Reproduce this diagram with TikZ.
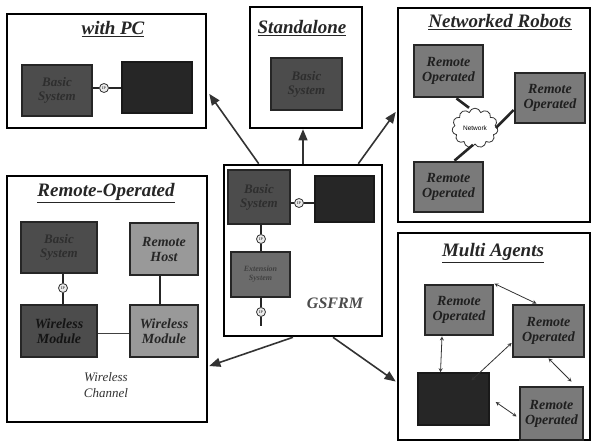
\documentclass[tikz,border=0pt]{standalone}
\usepackage{fontspec}
\setmainfont{Liberation Serif}
\setsansfont{Liberation Sans}
\usetikzlibrary{shapes,shapes.symbols,arrows,positioning,calc}

\begin{document}
\begin{tikzpicture}[x=1pt, y=-1pt]
    \tikzstyle{panel} = [rectangle, draw, line width=2.6pt, fill=white]
    \tikzstyle{ptitle} = [font=\fontsize{19}{21}\selectfont\bfseries\itshape, text=black!85]
    \tikzstyle{darkbox} = [rectangle, draw=black!85, line width=1.4pt, fill=black!70, text=black!82, font=\fontsize{13}{14}\selectfont\bfseries\itshape, align=center, inner sep=1pt]
    \tikzstyle{blackbox} = [rectangle, draw=black!90, line width=1.4pt, fill=black!85]
    \tikzstyle{robot} = [rectangle, draw=black!85, line width=2.8pt, fill=black!52, text=black!88, font=\fontsize{14}{15}\selectfont\bfseries\itshape, align=center, inner sep=1pt]
    \tikzstyle{hostbox} = [rectangle, draw=black!85, line width=2.2pt, fill=black!40, text=black!85, font=\fontsize{14}{15}\selectfont\bfseries\itshape, align=center, inner sep=1pt]
    \tikzstyle{port} = [circle, draw=black!80, line width=0.8pt, fill=black!8, inner sep=0.6pt, minimum size=9pt, font=\fontsize{4}{4}\selectfont]
    \tikzstyle{link} = [line width=2.2pt, black!85]
    \tikzstyle{arrow} = [line width=1.6pt, black!80, -triangle 45]
    \tikzstyle{twoway} = [line width=0.8pt, black!80, stealth-stealth]

    \useasboundingbox (0,0) rectangle (592,443);

    % Panels
    \node[panel, minimum width=199pt, minimum height=114pt] (withpc) at (106.5,71) {};
    \node[panel, minimum width=112pt, minimum height=121pt] (alone) at (306,67.5) {};
    \node[panel, minimum width=192pt, minimum height=214pt] (netrob) at (494,115) {};
    \node[panel, minimum width=200pt, minimum height=246pt] (remop) at (107,299) {};
    \node[panel, minimum width=158pt, minimum height=171pt] (gsfrm) at (303,250.5) {};
    \node[panel, minimum width=192pt, minimum height=207pt] (multi) at (494,336.5) {};

    \node[ptitle] at (113,29) {\underline{with PC}};
    \node[ptitle] at (302,28) {\underline{Standalone}};
    \node[ptitle] at (500,22) {\underline{Networked Robots}};
    \node[ptitle] at (106,193) {\underline{Remote-Operated}};
    \node[ptitle] at (493,253) {\underline{Multi Agents}};

    % with PC
    \node[darkbox, minimum width=70pt, minimum height=51pt] (pcbasic) at (57,90.5) {Basic\\System};
    \node[blackbox, minimum width=70pt, minimum height=51pt] (pcbox) at (157,87.5) {};
    \node[port] (pcport) at (104,88) {IP};
    \draw[link] (pcbasic.east |- pcport) -- (pcport);
    \draw[link] (pcport) -- (pcbox.west |- pcport);

    % Standalone
    \node[darkbox, minimum width=71pt, minimum height=52pt] (albasic) at (306.5,84) {Basic\\System};

    % Networked Robots
    \node[robot, minimum width=69pt, minimum height=52pt] (nr1) at (448.5,71) {Remote\\Operated};
    \node[robot, minimum width=70pt, minimum height=50pt] (nr2) at (550,98) {Remote\\Operated};
    \node[robot, minimum width=69pt, minimum height=50pt] (nr3) at (448.5,187) {Remote\\Operated};
    \node[cloud, draw=black!80, fill=white, line width=0.8pt, cloud puffs=11, minimum width=46pt, minimum height=26pt, inner sep=0pt, font=\sffamily\fontsize{6.5}{7}\selectfont] (net) at (475,128) {Network};
    \draw[link, line width=2.6pt] ([xshift=8pt]nr1.south) -- ([xshift=-6pt]net.north);
    \draw[link, line width=2.6pt] ([xshift=-2pt]net.south) -- ([xshift=6pt]nr3.north);
    \draw[link, line width=2.6pt] ([xshift=-2pt]net.east) -- ([yshift=-12pt]nr2.west);

    % Remote-Operated
    \node[darkbox, minimum width=76pt, minimum height=51pt] (robasic) at (59,247.5) {Basic\\System};
    \node[hostbox, minimum width=68pt, minimum height=52pt] (rohost) at (164,249) {Remote\\Host};
    \node[port] (roport) at (63,288) {IP};
    \node[darkbox, text=black!92, minimum width=76pt, minimum height=52pt, font=\fontsize{14}{15}\selectfont\bfseries\itshape] (rowm1) at (59,331) {Wireless\\Module};
    \node[hostbox, minimum width=68pt, minimum height=52pt] (rowm2) at (164,331) {Wireless\\Module};
    \node[font=\fontsize{13}{16}\selectfont\itshape, text=black!80, align=center] (rochan) at (106,385) {Wireless\\Channel};
    \draw[link] (robasic.south -| roport) -- (roport);
    \draw[link] (roport) -- (rowm1.north -| roport);
    \draw[link] ([xshift=-4pt]rohost.south) -- ([xshift=-4pt]rowm2.north);
    \draw[line width=0.8pt, black!75] ([yshift=-2pt]rowm1.east) -- ([yshift=-2pt]rowm2.west);

    % GSFRM
    \node[darkbox, minimum width=62pt, minimum height=54pt] (gbasic) at (259,197) {Basic\\System};
    \node[blackbox, minimum width=59pt, minimum height=46pt] (gbox) at (344.5,199) {};
    \node[darkbox, fill=black!58, text=black!75, font=\fontsize{8}{9}\selectfont\bfseries\itshape, minimum width=59pt, minimum height=45pt] (gext) at (260.5,274.5) {Extension\\System};
    \node[port] (gport1) at (299,203) {IP};
    \node[port] (gport2) at (261,239) {IP};
    \node[port] (gport3) at (261,312) {IP};
    \coordinate (gend) at (261,326);
    \node[font=\fontsize{16}{18}\selectfont\bfseries\itshape, text=black!70] (glabel) at (335,303) {GSFRM};
    \draw[link] (gbasic.east |- gport1) -- (gport1);
    \draw[link] (gport1) -- (gbox.west |- gport1);
    \draw[link] (gbasic.south -| gport2) -- (gport2);
    \draw[link] (gport2) -- (gext.north -| gport2);
    \draw[link] (gext.south -| gport3) -- (gport3);
    \draw[link] (gport3) -- (gend);

    % Multi Agents
    \node[robot, minimum width=68pt, minimum height=50pt] (ma1) at (459,310) {Remote\\Operated};
    \node[robot, minimum width=71pt, minimum height=52pt] (ma2) at (548.5,331) {Remote\\Operated};
    \node[blackbox, minimum width=71pt, minimum height=52pt] (mabox) at (453.5,399) {};
    \node[robot, minimum width=63pt, minimum height=53pt] (ma3) at (551.5,413.5) {Remote\\Operated};
    \draw[twoway] (ma1.north east) -- ([xshift=-12pt]ma2.north);
    \draw[twoway] ([xshift=-17pt]ma1.south) -- ([xshift=-13pt]mabox.north);
    \draw[twoway] ([yshift=-12pt]ma2.west) -- ([xshift=18pt,yshift=-8pt]mabox.north);
    \draw[twoway] (ma2.south) -- ([xshift=20pt,yshift=4pt]ma3.north);
    \draw[twoway] ([xshift=6pt,yshift=-3pt]mabox.east) -- ([xshift=-2pt,yshift=-3pt]ma3.west);

    % Arrows
    \draw[arrow] ([xshift=36pt]gsfrm.north west) -- ([xshift=2pt,yshift=-23pt]withpc.east);
    \draw[arrow] (gsfrm.north) -- (gsfrm.north |- alone.south);
    \draw[arrow] ([xshift=-25pt]gsfrm.north east) -- ([xshift=-1pt,yshift=3pt]netrob.west);
    \draw[arrow] ([xshift=-10pt]gsfrm.south) -- ([xshift=1pt,yshift=-67pt]remop.east);
    \draw[arrow] ([xshift=30pt]gsfrm.south) -- ([xshift=-1pt,yshift=-45pt]multi.west);
\end{tikzpicture}
\end{document}
